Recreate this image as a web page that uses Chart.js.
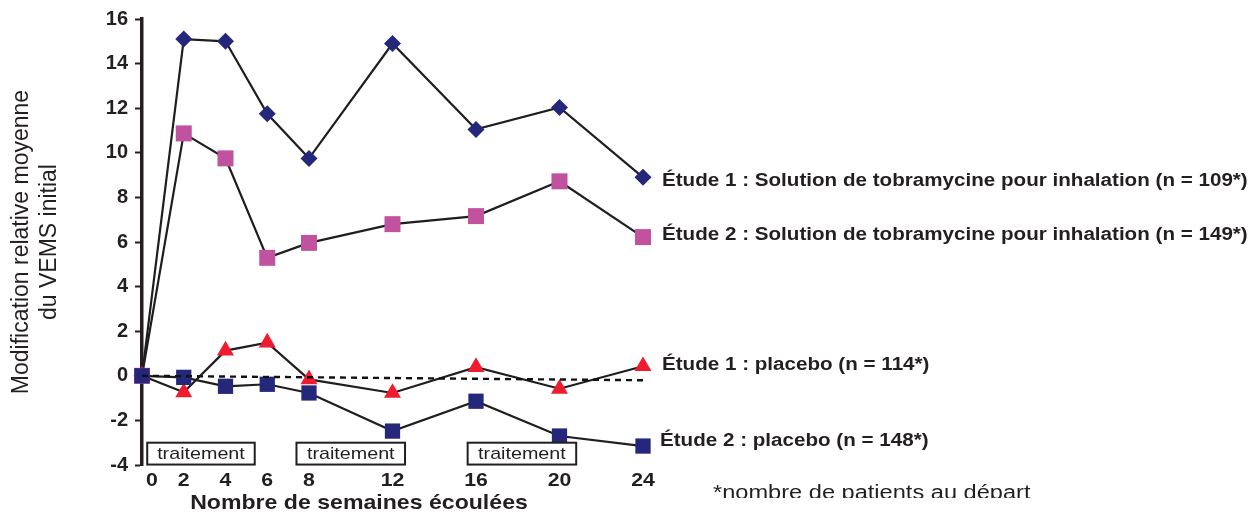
<!DOCTYPE html>
<html lang="fr">
<head>
    <meta charset="UTF-8">
    <title>Modification relative moyenne du VEMS initial</title>
    <script src="https://cdn.jsdelivr.net/npm/chart.js"></script>
    <style>
        html, body { margin: 0; padding: 0; background: #fff; }
        .chart-container { width: 1256px; height: 519px; }
    </style>
</head>
<body>
    <div class="chart-container">
        <canvas id="vemsChart"></canvas>
    </div>

    <script>
        // semaines (axe x)
        const weeks = [0, 2, 4, 6, 8, 12, 16, 20, 24];
        const yTicks = [-4, -2, 0, 2, 4, 6, 8, 10, 12, 14, 16];

        // valeurs
        const etude1Tobra   = [0, 15.1, 15.0, 11.75, 9.75, 14.9, 11.05, 12.03, 8.9];
        const etude2Tobra   = [0, 10.87, 9.75, 5.29, 5.96, 6.8, 7.16, 8.72, 6.22];
        const etude1Placebo = [0, -0.74, 1.13, 1.49, -0.16, -0.77, 0.39, -0.58, 0.43];
        const etude2Placebo = [0, -0.07, -0.47, -0.38, -0.77, -2.48, -1.14, -2.7, -3.15];
        const baselineWeeks = [0, 24];
        const baselineValues = [0, -0.2];

        const seriesLabels = [
            'Étude 1 : Solution de tobramycine pour inhalation (n = 109*)',
            'Étude 2 : Solution de tobramycine pour inhalation (n = 149*)',
            'Étude 1 : placebo (n = 114*)',
            'Étude 2 : placebo (n = 148*)'
        ];
        // périodes de traitement (semaines de début / fin des cadres)
        const treatmentStart = [0.25, 7.4, 15.6];
        const treatmentEnd = [5.4, 12.6, 20.8];
        const treatmentLabel = 'traitement';
        const footnote = '*nombre de patients au départ';

        const NAVY = '#25287a';
        const PINK = '#c0529f';
        const RED = '#ee1c2e';
        const LINE = '#1e1e1e';
        const TEXT = '#231f20';
        const FONT = '"Liberation Sans", Arial, sans-serif';

        function toPoints(xs, ys) {
            return xs.map((x, i) => ({ x: x, y: ys[i] }));
        }

        function series(label, values, style, color, radius) {
            return {
                label: label,
                data: toPoints(weeks, values),
                borderColor: LINE,
                borderWidth: 2.2,
                pointStyle: style,
                pointRadius: radius,
                pointBackgroundColor: color,
                pointBorderColor: color,
                pointBorderWidth: 0,
                tension: 0,
                clip: false
            };
        }

        // texte un peu étiré horizontalement, comme dans l'original
        function stretchText(ctx, text, x, y, sx) {
            ctx.save();
            ctx.translate(x, y);
            ctx.scale(sx, 1);
            ctx.fillText(text, 0, 0);
            ctx.restore();
        }

        const annotationsPlugin = {
            id: 'annotations',
            afterDatasetsDraw(chart) {
                const ctx = chart.ctx;
                const x = chart.scales.x;
                const y = chart.scales.y;
                ctx.save();

                // étiquettes de l'axe x
                ctx.fillStyle = TEXT;
                ctx.font = 'bold 19px ' + FONT;
                ctx.textAlign = 'center';
                ctx.textBaseline = 'middle';
                weeks.forEach(w => {
                    const px = x.getPixelForValue(w) + (w === 0 ? 10 : 0);
                    stretchText(ctx, String(w), px, 481, 1.12);
                });

                ctx.font = 'bold 21px ' + FONT;
                stretchText(ctx, 'Nombre de semaines écoulées', 359, 503, 1.1);

                // cadres "traitement"
                ctx.font = '17px ' + FONT;
                ctx.lineWidth = 2;
                ctx.strokeStyle = TEXT;
                treatmentStart.forEach((s, i) => {
                    const x0 = x.getPixelForValue(s);
                    const x1 = x.getPixelForValue(treatmentEnd[i]);
                    const y0 = y.getPixelForValue(-3.0);
                    const y1 = y.getPixelForValue(-3.98);
                    ctx.fillStyle = '#fff';
                    ctx.fillRect(x0, y0, x1 - x0, y1 - y0);
                    ctx.strokeRect(x0, y0, x1 - x0, y1 - y0);
                    ctx.fillStyle = TEXT;
                    stretchText(ctx, treatmentLabel, (x0 + x1) / 2, (y0 + y1) / 2 + 1, 1.16);
                });

                // libellés des séries
                ctx.textAlign = 'left';
                ctx.font = 'bold 18px ' + FONT;
                const last = weeks.length - 1;
                const lastX = x.getPixelForValue(weeks[last]) + 19;
                const ends = [etude1Tobra[last], etude2Tobra[last], etude1Placebo[last], etude2Placebo[last]];
                const dy = [4, -2, -1, -5];
                ends.forEach((v, i) => {
                    stretchText(ctx, seriesLabels[i], lastX - (i === 3 ? 2 : 0), y.getPixelForValue(v) + dy[i], 1.145);
                });

                // note en bas, coupée par le bord
                ctx.beginPath();
                ctx.rect(700, 470, 400, 28);
                ctx.clip();
                ctx.font = '20px ' + FONT;
                stretchText(ctx, footnote, 713, 493, 1.18);
                ctx.restore();
            }
        };

        const ctx = document.getElementById('vemsChart').getContext('2d');
        new Chart(ctx, {
            type: 'line',
            data: {
                datasets: [
                    {
                        label: 'ligne de base',
                        data: toPoints(baselineWeeks, baselineValues),
                        borderColor: '#111',
                        borderWidth: 2.4,
                        borderDash: [6, 5],
                        pointRadius: 0,
                        clip: false
                    },
                    series(seriesLabels[3], etude2Placebo, 'rect', NAVY, 10.8),
                    series(seriesLabels[2], etude1Placebo, 'triangle', RED, 9.8),
                    series(seriesLabels[1], etude2Tobra, 'rect', PINK, 11.3),
                    series(seriesLabels[0], etude1Tobra, 'rectRot', NAVY, 8.5)
                ]
            },
            options: {
                responsive: true,
                maintainAspectRatio: false,
                animation: false,
                layout: { padding: { top: 17, right: 613, bottom: 54, left: 0 } },
                plugins: {
                    legend: { display: false },
                    tooltip: { enabled: false }
                },
                scales: {
                    x: {
                        type: 'linear',
                        display: false,
                        min: 0,
                        max: 24
                    },
                    y: {
                        min: -4,
                        max: 16,
                        afterBuildTicks: scale => { scale.ticks = yTicks.map(v => ({ value: v })); },
                        afterFit: scale => { scale.width = 142; },
                        border: { display: true, color: TEXT, width: 3.5 },
                        grid: {
                            drawOnChartArea: false,
                            drawTicks: true,
                            tickLength: 7,
                            tickWidth: 2,
                            tickColor: TEXT
                        },
                        ticks: {
                            padding: 7,
                            color: TEXT,
                            font: { family: FONT, size: 20, weight: 'bold' }
                        },
                        title: {
                            display: true,
                            text: ['Modification relative moyenne', 'du VEMS initial'],
                            color: TEXT,
                            padding: { top: 7, bottom: 0 },
                            font: { family: FONT, size: 23, lineHeight: 1.25 }
                        }
                    }
                }
            },
            plugins: [annotationsPlugin]
        });
    </script>
</body>
</html>
